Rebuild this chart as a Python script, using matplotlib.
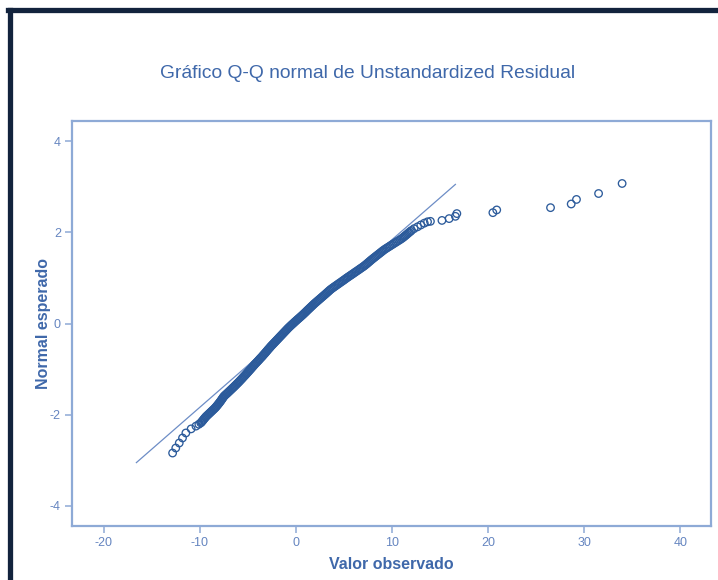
import matplotlib
matplotlib.use("Agg")
import matplotlib.pyplot as plt
from matplotlib.lines import Line2D

plt.rcParams['font.family'] = ['Liberation Sans', 'DejaVu Sans']
plt.rcParams['axes.unicode_minus'] = False

title = "Gráfico Q-Q normal de Unstandardized Residual"
x_label = "Valor observado"
y_label = "Normal esperado"

# lower tail, read point by point
low_obs = [-12.83, -12.50, -12.14, -11.80, -11.45, -10.90, -10.40, -10.10]
low_exp = [-2.84, -2.73, -2.62, -2.51, -2.40, -2.31, -2.25, -2.21]

# dense body of the plot: expected normal value and observed residual
body_exp = [-2.18, -2.16, -2.14, -2.12, -2.10, -2.08, -2.06, -2.04, -2.02, -2.00,
            -1.98, -1.96, -1.94, -1.92, -1.90, -1.88, -1.86, -1.84, -1.82, -1.80,
            -1.78, -1.76, -1.74, -1.72, -1.70, -1.68, -1.66, -1.64, -1.62, -1.60,
            -1.58, -1.56, -1.54, -1.52, -1.50, -1.48, -1.46, -1.44, -1.42, -1.40,
            -1.38, -1.36, -1.34, -1.32, -1.30, -1.28, -1.26, -1.24, -1.22, -1.20,
            -1.18, -1.16, -1.14, -1.12, -1.10, -1.08, -1.06, -1.04, -1.02, -1.00,
            -0.98, -0.96, -0.94, -0.92, -0.90, -0.88, -0.86, -0.84, -0.82, -0.80,
            -0.78, -0.76, -0.74, -0.72, -0.70, -0.68, -0.66, -0.64, -0.62, -0.60,
            -0.58, -0.56, -0.54, -0.52, -0.50, -0.48, -0.46, -0.44, -0.42, -0.40,
            -0.38, -0.36, -0.34, -0.32, -0.30, -0.28, -0.26, -0.24, -0.22, -0.20,
            -0.18, -0.16, -0.14, -0.12, -0.10, -0.08, -0.06, -0.04, -0.02, 0.00,
            0.02, 0.04, 0.06, 0.08, 0.10, 0.12, 0.14, 0.16, 0.18, 0.20,
            0.22, 0.24, 0.26, 0.28, 0.30, 0.32, 0.34, 0.36, 0.38, 0.40,
            0.42, 0.44, 0.46, 0.48, 0.50, 0.52, 0.54, 0.56, 0.58, 0.60,
            0.62, 0.64, 0.66, 0.68, 0.70, 0.72, 0.74, 0.76, 0.78, 0.80,
            0.82, 0.84, 0.86, 0.88, 0.90, 0.92, 0.94, 0.96, 0.98, 1.00,
            1.02, 1.04, 1.06, 1.08, 1.10, 1.12, 1.14, 1.16, 1.18, 1.20,
            1.22, 1.24, 1.26, 1.28, 1.30, 1.32, 1.34, 1.36, 1.38, 1.40,
            1.42, 1.44, 1.46, 1.48, 1.50, 1.52, 1.54, 1.56, 1.58, 1.60,
            1.62, 1.64, 1.66, 1.68, 1.70, 1.72, 1.74, 1.76, 1.78, 1.80,
            1.82, 1.84, 1.86, 1.88, 1.90, 1.92, 1.94, 1.96, 1.98, 2.00,
            2.02, 2.04]
body_obs = [-9.90, -9.82, -9.74, -9.66, -9.59, -9.51, -9.43, -9.35, -9.25, -9.15,
            -9.05, -8.95, -8.85, -8.75, -8.65, -8.55, -8.45, -8.36, -8.28, -8.20,
            -8.12, -8.05, -7.97, -7.90, -7.83, -7.76, -7.70, -7.63, -7.57, -7.50,
            -7.41, -7.31, -7.20, -7.10, -7.00, -6.90, -6.80, -6.70, -6.60, -6.50,
            -6.40, -6.31, -6.21, -6.12, -6.02, -5.93, -5.84, -5.75, -5.66, -5.57,
            -5.49, -5.40, -5.31, -5.22, -5.14, -5.05, -4.97, -4.88, -4.80, -4.71,
            -4.63, -4.55, -4.46, -4.38, -4.30, -4.21, -4.12, -4.03, -3.94, -3.85,
            -3.77, -3.68, -3.59, -3.50, -3.42, -3.34, -3.25, -3.17, -3.09, -3.01,
            -2.93, -2.85, -2.76, -2.68, -2.60, -2.51, -2.42, -2.33, -2.24, -2.15,
            -2.06, -1.97, -1.88, -1.79, -1.70, -1.61, -1.52, -1.43, -1.34, -1.25,
            -1.16, -1.07, -0.98, -0.89, -0.80, -0.70, -0.60, -0.50, -0.40, -0.29,
            -0.19, -0.09, 0.02, 0.12, 0.23, 0.34, 0.45, 0.55, 0.66, 0.76,
            0.86, 0.96, 1.06, 1.15, 1.25, 1.35, 1.45, 1.55, 1.65, 1.75,
            1.85, 1.95, 2.06, 2.17, 2.28, 2.39, 2.50, 2.61, 2.72, 2.83,
            2.94, 3.05, 3.16, 3.26, 3.37, 3.47, 3.58, 3.70, 3.83, 3.96,
            4.10, 4.23, 4.37, 4.50, 4.64, 4.77, 4.91, 5.04, 5.17, 5.30,
            5.44, 5.58, 5.72, 5.86, 6.00, 6.13, 6.27, 6.41, 6.55, 6.68,
            6.82, 6.96, 7.09, 7.21, 7.33, 7.44, 7.55, 7.66, 7.77, 7.88,
            8.00, 8.12, 8.24, 8.36, 8.48, 8.60, 8.72, 8.84, 8.96, 9.08,
            9.21, 9.35, 9.50, 9.65, 9.80, 9.95, 10.10, 10.25, 10.40, 10.55,
            10.70, 10.85, 10.99, 11.12, 11.24, 11.35, 11.47, 11.58, 11.69, 11.80,
            11.92, 12.03]

# upper tail
high_obs = [12.30, 12.66, 13.00, 13.36, 13.70, 14.00, 15.20, 15.95, 16.60, 16.75,
            20.50, 20.90, 26.50, 28.65, 29.20, 31.50, 33.95]
high_exp = [2.08, 2.12, 2.16, 2.20, 2.23, 2.24, 2.26, 2.30, 2.35, 2.41,
            2.43, 2.49, 2.54, 2.62, 2.72, 2.85, 3.07]

# reference line ends
ref_x = [-16.6, 16.6]
ref_y = [-3.05, 3.05]

x_ticks = [-20, -10, 0, 10, 20, 30, 40]
y_ticks = [-4, -2, 0, 2, 4]

observed = low_obs + body_obs + high_obs
expected = low_exp + body_exp + high_exp

spine_col = "#8eaad6"
tick_col = "#6585c0"
text_col = "#3f68aa"
point_col = "#2c5b9b"

fig = plt.figure(figsize=(7.18, 5.80), dpi=100)
ax = fig.add_axes([72 / 718, 1 - 526 / 580, 639 / 718, 405 / 580])

ax.plot(ref_x, ref_y, color="#6d8dc6", lw=0.9, zorder=2)
ax.scatter(observed, expected, s=5.4 ** 2, facecolors="none",
           edgecolors=point_col, linewidths=0.95, zorder=3)

ax.set_xlim(-23.3, 43.2)
ax.set_ylim(-4.44, 4.44)
ax.set_xticks(x_ticks)
ax.set_yticks(y_ticks)
ax.tick_params(colors=spine_col, labelcolor=tick_col, labelsize=9,
               length=5, width=1.1, direction="out", pad=3)
for s in ax.spines.values():
    s.set_color(spine_col)
    s.set_linewidth(1.6)

ax.set_xlabel(x_label, color=text_col, fontsize=11.5, fontweight="bold", labelpad=6)
ax.set_ylabel(y_label, color=text_col, fontsize=11.5, fontweight="bold", labelpad=-1)
fig.text(368 / 718, 1 - 73 / 580, title, color=text_col, fontsize=13.9,
         ha="center", va="center")

# dark frame along the top and left edge
frame = "#12233d"
fig.add_artist(Line2D([9.5 / 718, 9.5 / 718], [0, 1 - 10 / 580],
                      transform=fig.transFigure, color=frame, lw=3.8))
fig.add_artist(Line2D([7.5 / 718, 1], [1 - 10 / 580, 1 - 10 / 580],
                      transform=fig.transFigure, color=frame, lw=3.8))

fig.savefig("out.png", dpi=100)
